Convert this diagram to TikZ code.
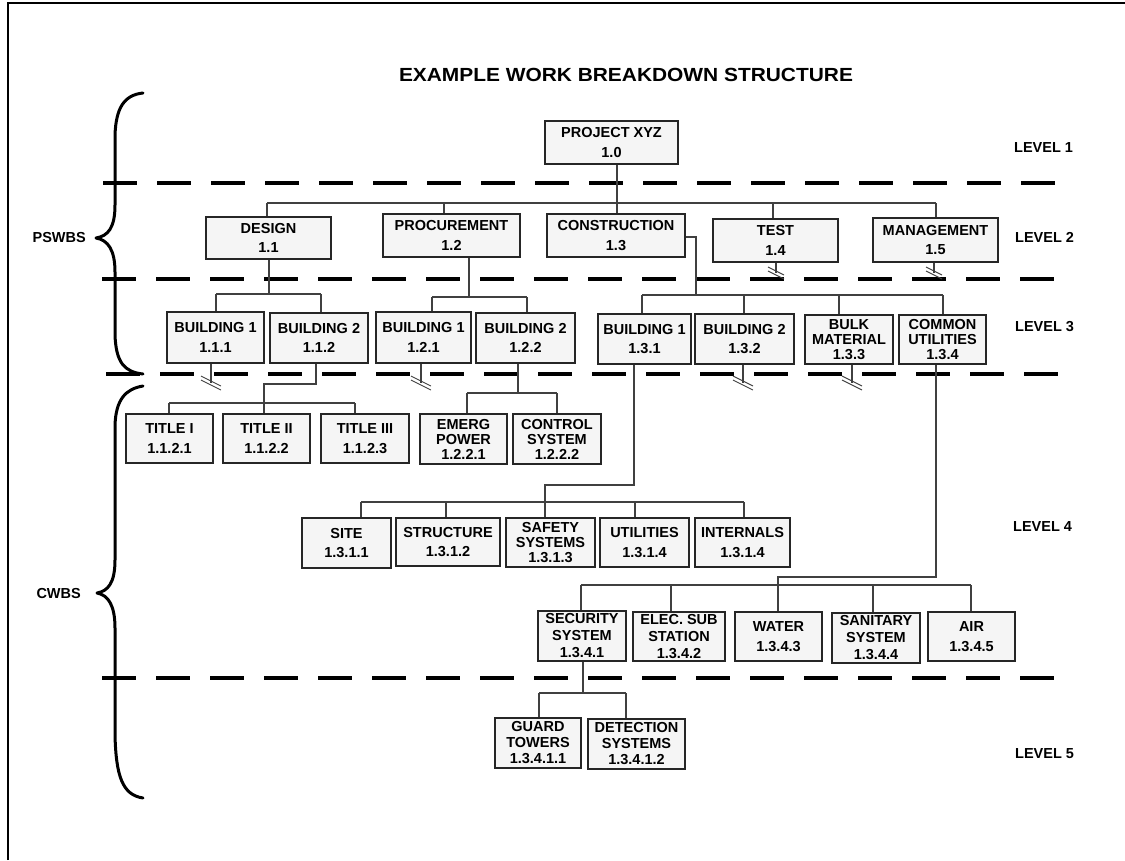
\documentclass[tikz,border=0pt]{standalone}
\usepackage{fontspec}
\setmainfont{Liberation Sans}
\newfontfamily\titlefont{Liberation Sans}[FakeStretch=1.1]
\begin{document}
\begin{tikzpicture}[x=1pt,y=-1pt,
  box/.style={draw=black!85,line width=1.1pt,fill=black!4,inner sep=0pt,align=center,font=\fontsize{14.5}{19.5}\selectfont\bfseries},
  tri/.style={box,font=\fontsize{14.5}{15}\selectfont\bfseries},
  sz/.style 2 args={minimum width=#1pt,minimum height=#2pt},
  conn/.style={draw=black!75,line width=1.1pt},
  dashline/.style={line width=3.5pt,dash pattern=on 34pt off 20pt},
  brace/.style={line width=3pt,line cap=round,line join=round},
  lvl/.style={anchor=west,font=\fontsize{14.5}{16}\selectfont\bfseries,inner sep=0pt},
  side/.style={anchor=east,font=\fontsize{14.5}{16}\selectfont\bfseries,inner sep=0pt},
  brkS/.pic={\draw[conn,line width=0.9pt] (-8,-6)--(8,2) (-8,-2)--(8,6);},
  brkL/.pic={\draw[conn,line width=0.9pt] (-10,-7)--(10,3) (-10,-3)--(10,7);}
]
\useasboundingbox (0,0) rectangle (1125,860);
% frame
\draw[line width=2.5pt] (8,860) -- (8,3) -- (1125,3);
% title
\node[font=\titlefont\fontsize{19}{21}\selectfont\bfseries] (title) at (626,75) {EXAMPLE WORK BREAKDOWN STRUCTURE};
% dashed level separators
\draw[dashline] (103,183) -- (1062,183);
\draw[dashline] (102,279) -- (1062,279);
\draw[dashline] (106,374) -- (1064,374);
\draw[dashline] (102,678) -- (1062,678);
% braces
\draw[brace] (143,93) .. controls (124,95) and (116,108) .. (115,135) -- (115,205)
  .. controls (115,228) and (108,236) .. (96,238) .. controls (108,240) and (115,250) .. (115,272)
  -- (115,335) .. controls (116,362) and (124,372) .. (143,374);
\draw[brace] (143,386) .. controls (125,389) and (116,400) .. (115,425) -- (115,560)
  .. controls (115,583) and (108,591) .. (97,593) .. controls (108,595) and (115,605) .. (115,628)
  -- (115,735) .. controls (116,775) and (122,795) .. (143,798);
\node[side] (pswbs) at (86,238) {PSWBS};
\node[side] (cwbs) at (81,593) {CWBS};
% level labels
\node[lvl] (l1) at (1014,148) {LEVEL 1};
\node[lvl] (l2) at (1015,237) {LEVEL 2};
\node[lvl] (l3) at (1015,327) {LEVEL 3};
\node[lvl] (l4) at (1013,527) {LEVEL 4};
\node[lvl] (l5) at (1015,754) {LEVEL 5};
% level 1
\node[box,sz={133}{43}] (p) at (611.5,142.5) {PROJECT XYZ\\1.0};
% level 2
\node[box,sz={125}{42}] (d11) at (268.5,238) {DESIGN\\1.1};
\node[box,sz={137}{43}] (d12) at (451.5,235.5) {PROCUREMENT\\1.2};
\node[box,sz={138}{43}] (d13) at (616,235.5) {CONSTRUCTION\\1.3};
\node[box,sz={125}{43}] (d14) at (775.5,240.5) {TEST\\1.4};
\node[box,sz={125}{44}] (d15) at (935.5,240) {MANAGEMENT\\1.5};
% level 3
\node[box,sz={97}{51}] (a111) at (215.5,337.5) {BUILDING 1\\1.1.1};
\node[box,sz={98}{50}] (a112) at (319,338) {BUILDING 2\\1.1.2};
\node[box,sz={95}{51}] (a121) at (423.5,337.5) {BUILDING 1\\1.2.1};
\node[box,sz={99}{50}] (a122) at (525.5,338) {BUILDING 2\\1.2.2};
\node[box,sz={93}{50}] (a131) at (644.5,339) {BUILDING 1\\1.3.1};
\node[box,sz={99}{50}] (a132) at (744.5,339) {BUILDING 2\\1.3.2};
\node[tri,sz={88}{49}] (a133) at (849,339.5) {BULK\\MATERIAL\\1.3.3};
\node[tri,sz={87}{49}] (a134) at (942.5,339.5) {COMMON\\UTILITIES\\1.3.4};
% level 4
\node[box,sz={87}{49}] (t1) at (169.5,438.5) {TITLE I\\1.1.2.1};
\node[box,sz={87}{49}] (t2) at (266.5,438.5) {TITLE II\\1.1.2.2};
\node[box,sz={88}{49}] (t3) at (365,438.5) {TITLE III\\1.1.2.3};
\node[tri,sz={87}{50}] (e1) at (463.5,439) {EMERG\\POWER\\1.2.2.1};
\node[tri,sz={88}{50}] (e2) at (557,439) {CONTROL\\SYSTEM\\1.2.2.2};
\node[box,sz={89}{50}] (s1) at (346.5,543) {SITE\\1.3.1.1};
\node[box,sz={104}{48}] (s2) at (448,542) {STRUCTURE\\1.3.1.2};
\node[tri,sz={89}{49}] (s3) at (550.5,542.5) {SAFETY\\SYSTEMS\\1.3.1.3};
\node[box,sz={89}{49}] (s4) at (644.5,542.5) {UTILITIES\\1.3.1.4};
\node[box,sz={95}{49}] (s5) at (742.5,542.5) {INTERNALS\\1.3.1.4};
\node[tri,sz={88}{50},font=\fontsize{14.5}{17}\selectfont\bfseries] (u1) at (582,636) {SECURITY\\SYSTEM\\1.3.4.1};
\node[tri,sz={92}{49},font=\fontsize{14.5}{17}\selectfont\bfseries] (u2) at (679,636.5) {ELEC. SUB\\STATION\\1.3.4.2};
\node[box,sz={87}{49}] (u3) at (778.5,636.5) {WATER\\1.3.4.3};
\node[tri,sz={88}{50},font=\fontsize{14.5}{17}\selectfont\bfseries] (u4) at (876,638) {SANITARY\\SYSTEM\\1.3.4.4};
\node[box,sz={87}{49}] (u5) at (971.5,636.5) {AIR\\1.3.4.5};
% level 5
\node[tri,sz={86}{50},font=\fontsize{14.5}{16}\selectfont\bfseries] (g1) at (538,743) {GUARD\\TOWERS\\1.3.4.1.1};
\node[tri,sz={97}{50},font=\fontsize{14.5}{16}\selectfont\bfseries] (g2) at (636.5,744) {DETECTION\\SYSTEMS\\1.3.4.1.2};
% connectors level 1 -> 2
\draw[conn] (617,0 |- p.south) -- (617,203);
\draw[conn] (267,203) -- (936,203);
\foreach \x/\n in {267/d11,444/d12,617/d13,773/d14,936/d15}
  \draw[conn] (\x,203) -- (\x,0 |- \n.north);
% breaks level 2
\draw[conn] (776,0 |- d14.south) -- (776,273);
\pic at (776,273) {brkS};
\draw[conn] (934,0 |- d15.south) -- (934,273);
\pic at (934,273) {brkS};
% design
\draw[conn] (269,0 |- d11.south) -- (269,294);
\draw[conn] (216,294) -- (321,294);
\draw[conn] (216,294) -- (216,0 |- a111.north);
\draw[conn] (321,294) -- (321,0 |- a112.north);
% procurement
\draw[conn] (469,0 |- d12.south) -- (469,297);
\draw[conn] (432,297) -- (527,297);
\draw[conn] (432,297) -- (432,0 |- a121.north);
\draw[conn] (527,297) -- (527,0 |- a122.north);
% construction
\draw[conn] (d13.east |- 0,237) -- (696,237) -- (696,295);
\draw[conn] (642,295) -- (943,295);
\foreach \x/\n in {642/a131,744/a132,839/a133,943/a134}
  \draw[conn] (\x,295) -- (\x,0 |- \n.north);
% breaks level 3
\foreach \x/\n in {211/a111,421/a121,743/a132,852/a133}{
  \draw[conn] (\x,0 |- \n.south) -- (\x,383);
  \pic at (\x,383) {brkL};
}
% building 2 (1.1.2)
\draw[conn] (316,0 |- a112.south) -- (316,384) -- (264,384) -- (264,0 |- t2.north);
\draw[conn] (169,403) -- (355,403);
\draw[conn] (169,403) -- (169,0 |- t1.north);
\draw[conn] (355,403) -- (355,0 |- t3.north);
% building 2 (1.2.2)
\draw[conn] (518,0 |- a122.south) -- (518,393);
\draw[conn] (467,393) -- (557,393);
\draw[conn] (467,393) -- (467,0 |- e1.north);
\draw[conn] (557,393) -- (557,0 |- e2.north);
% building 1 (1.3.1)
\draw[conn] (634,0 |- a131.south) -- (634,485) -- (545,485) -- (545,0 |- s3.north);
\draw[conn] (361,502) -- (744,502);
\foreach \x/\n in {361/s1,446/s2,635/s4,744/s5}
  \draw[conn] (\x,502) -- (\x,0 |- \n.north);
% common utilities (1.3.4)
\draw[conn] (936,0 |- a134.south) -- (936,577) -- (778,577) -- (778,0 |- u3.north);
\draw[conn] (581,585) -- (971,585);
\foreach \x/\n in {581/u1,671/u2,873/u4,971/u5}
  \draw[conn] (\x,585) -- (\x,0 |- \n.north);
% security system
\draw[conn] (583,0 |- u1.south) -- (583,693);
\draw[conn] (539,693) -- (626,693);
\draw[conn] (539,693) -- (539,0 |- g1.north);
\draw[conn] (626,693) -- (626,0 |- g2.north);
\end{tikzpicture}
\end{document}
